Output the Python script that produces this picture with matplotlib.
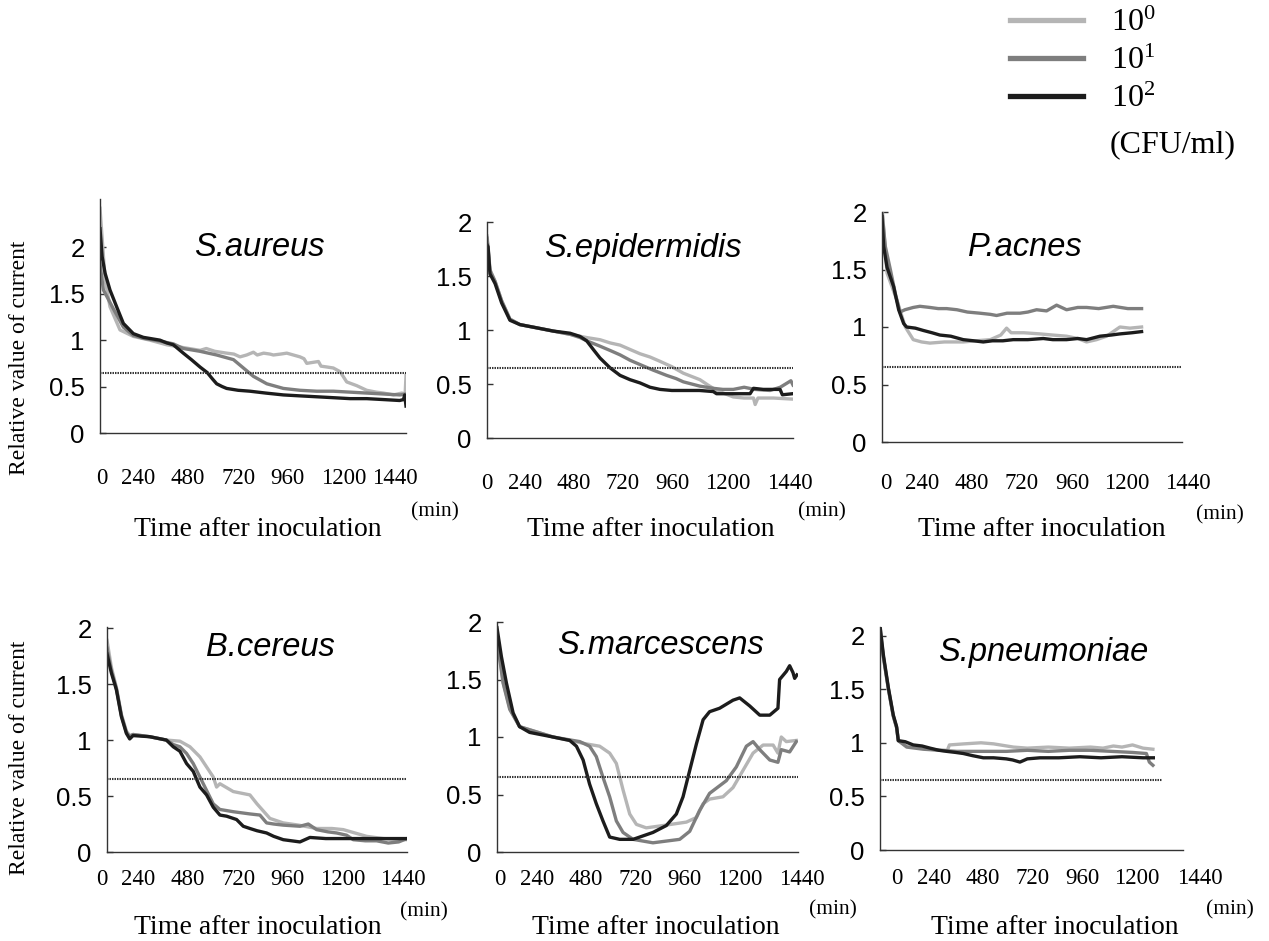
import matplotlib
matplotlib.use("Agg")
import matplotlib.pyplot as plt
from matplotlib.lines import Line2D
from matplotlib.transforms import ScaledTranslation

# relative value of current, three inoculum sizes (10^0, 10^1, 10^2 CFU/ml)
aureus_t0 = [0, 24, 47, 94, 157, 235, 314, 392, 471, 500, 540, 596, 630, 659, 690, 722, 740, 770, 800, 816, 850, 879, 910, 941, 960, 973, 1000, 1028, 1040, 1070, 1098, 1130, 1161, 1208, 1255, 1300, 1334, 1381, 1420, 1436, 1440]
aureus_v0 = [2.42, 1.65, 1.36, 1.11, 1.04, 1.0, 0.95, 0.92, 0.89, 0.91, 0.88, 0.86, 0.85, 0.82, 0.84, 0.87, 0.84, 0.86, 0.85, 0.84, 0.85, 0.86, 0.84, 0.82, 0.80, 0.75, 0.76, 0.77, 0.72, 0.71, 0.70, 0.66, 0.55, 0.51, 0.46, 0.44, 0.43, 0.41, 0.43, 0.42, 0.62]
aureus_t1 = [0, 16, 30, 60, 110, 157, 204, 282, 345, 392, 470, 549, 628, 675, 722, 785, 863, 941, 1020, 1098, 1177, 1255, 1334, 1412, 1440]
aureus_v1 = [1.82, 1.54, 1.48, 1.35, 1.14, 1.05, 1.02, 0.99, 0.96, 0.91, 0.88, 0.84, 0.79, 0.70, 0.61, 0.53, 0.48, 0.46, 0.45, 0.45, 0.44, 0.43, 0.42, 0.41, 0.42]
aureus_t2 = [0, 10, 24, 47, 80, 110, 157, 204, 282, 314, 345, 392, 430, 471, 505, 530, 549, 575, 596, 650, 706, 780, 863, 940, 1020, 1100, 1177, 1255, 1334, 1410, 1428, 1434, 1440]
aureus_v2 = [2.2, 1.9, 1.72, 1.54, 1.35, 1.18, 1.07, 1.03, 1.0, 0.97, 0.95, 0.86, 0.79, 0.71, 0.65, 0.58, 0.53, 0.50, 0.48, 0.46, 0.45, 0.43, 0.41, 0.40, 0.39, 0.38, 0.37, 0.37, 0.36, 0.35, 0.36, 0.41, 0.29]

epi_t0 = [0, 5, 14, 38, 69, 108, 155, 234, 312, 391, 469, 532, 580, 626, 673, 720, 767, 814, 870, 924, 1002, 1040, 1081, 1120, 1159, 1210, 1254, 1262, 1275, 1348, 1440]
epi_v0 = [1.87, 1.78, 1.56, 1.45, 1.27, 1.10, 1.05, 1.02, 0.99, 0.96, 0.93, 0.91, 0.88, 0.86, 0.82, 0.78, 0.75, 0.71, 0.66, 0.60, 0.54, 0.49, 0.44, 0.41, 0.38, 0.37, 0.37, 0.31, 0.37, 0.37, 0.36]
epi_t1 = [0, 5, 14, 38, 69, 108, 155, 234, 312, 391, 438, 469, 532, 580, 626, 673, 720, 780, 845, 890, 924, 1002, 1065, 1110, 1159, 1210, 1260, 1332, 1380, 1430, 1440]
epi_v1 = [1.85, 1.75, 1.55, 1.45, 1.27, 1.10, 1.05, 1.02, 0.99, 0.96, 0.93, 0.90, 0.85, 0.81, 0.77, 0.72, 0.68, 0.63, 0.58, 0.55, 0.52, 0.48, 0.46, 0.45, 0.45, 0.47, 0.45, 0.44, 0.47, 0.53, 0.49]
epi_t2 = [0, 5, 14, 38, 69, 108, 155, 234, 312, 391, 438, 469, 500, 532, 579, 626, 673, 720, 767, 814, 870, 924, 1000, 1065, 1080, 1160, 1238, 1254, 1300, 1379, 1390, 1438]
epi_v2 = [1.79, 1.77, 1.52, 1.43, 1.25, 1.09, 1.05, 1.02, 0.99, 0.97, 0.94, 0.90, 0.82, 0.74, 0.65, 0.58, 0.54, 0.51, 0.47, 0.45, 0.44, 0.44, 0.44, 0.43, 0.41, 0.41, 0.41, 0.46, 0.45, 0.45, 0.40, 0.41]

acnes_t0 = [0, 24, 72, 112, 150, 190, 230, 300, 390, 450, 520, 570, 598, 620, 680, 758, 820, 886, 940, 982, 1030, 1078, 1110, 1142, 1190, 1246]
acnes_v0 = [2.05, 1.47, 1.23, 1.00, 0.89, 0.87, 0.86, 0.87, 0.87, 0.88, 0.89, 0.93, 0.99, 0.95, 0.95, 0.94, 0.93, 0.92, 0.90, 0.87, 0.89, 0.92, 0.96, 1.00, 0.99, 1.00]
acnes_t1 = [0, 16, 40, 64, 86, 110, 150, 182, 230, 270, 310, 360, 410, 470, 520, 550, 600, 662, 700, 742, 790, 838, 886, 940, 982, 1040, 1110, 1180, 1246]
acnes_v1 = [2.0, 1.70, 1.50, 1.29, 1.13, 1.15, 1.17, 1.18, 1.17, 1.16, 1.16, 1.15, 1.13, 1.12, 1.11, 1.10, 1.12, 1.12, 1.13, 1.15, 1.14, 1.19, 1.15, 1.17, 1.17, 1.16, 1.18, 1.16, 1.16]
acnes_t2 = [0, 8, 24, 56, 80, 104, 118, 160, 198, 240, 278, 330, 390, 440, 486, 530, 580, 630, 700, 774, 820, 886, 940, 982, 1046, 1100, 1142, 1200, 1246]
acnes_v2 = [1.96, 1.70, 1.52, 1.35, 1.15, 1.03, 1.00, 0.99, 0.97, 0.95, 0.93, 0.92, 0.89, 0.88, 0.87, 0.88, 0.88, 0.89, 0.89, 0.90, 0.89, 0.89, 0.90, 0.89, 0.92, 0.93, 0.94, 0.95, 0.96]

cereus_t0 = [0, 21, 45, 69, 93, 109, 125, 205, 285, 350, 398, 446, 478, 510, 526, 542, 606, 686, 720, 782, 846, 920, 1006, 1080, 1134, 1190, 1246, 1326, 1440]
cereus_v0 = [1.89, 1.65, 1.47, 1.23, 1.08, 1.04, 1.05, 1.03, 1.00, 0.99, 0.94, 0.85, 0.76, 0.67, 0.58, 0.61, 0.54, 0.51, 0.43, 0.30, 0.26, 0.24, 0.21, 0.21, 0.20, 0.17, 0.14, 0.12, 0.11]
cereus_t1 = [0, 21, 45, 69, 93, 109, 125, 205, 285, 318, 350, 382, 414, 446, 478, 510, 542, 606, 686, 734, 766, 800, 846, 926, 966, 1006, 1060, 1102, 1150, 1182, 1240, 1294, 1350, 1400, 1440]
cereus_v1 = [1.82, 1.62, 1.46, 1.22, 1.07, 1.03, 1.05, 1.03, 1.00, 0.96, 0.94, 0.88, 0.79, 0.67, 0.55, 0.43, 0.38, 0.36, 0.34, 0.33, 0.26, 0.25, 0.24, 0.23, 0.25, 0.20, 0.18, 0.17, 0.15, 0.11, 0.10, 0.10, 0.08, 0.09, 0.12]
cereus_t2 = [0, 21, 45, 69, 93, 109, 125, 205, 285, 318, 350, 382, 414, 446, 478, 510, 542, 574, 622, 654, 686, 720, 766, 800, 846, 926, 974, 1050, 1166, 1300, 1438]
cereus_v2 = [1.77, 1.60, 1.45, 1.21, 1.06, 1.01, 1.04, 1.03, 1.00, 0.94, 0.90, 0.79, 0.72, 0.58, 0.51, 0.40, 0.33, 0.32, 0.29, 0.23, 0.21, 0.19, 0.17, 0.14, 0.11, 0.09, 0.13, 0.12, 0.12, 0.12, 0.12]

marc_t0 = [0, 29, 61, 108, 268, 427, 491, 539, 571, 603, 635, 667, 714, 794, 906, 954, 986, 1017, 1081, 1129, 1177, 1225, 1273, 1321, 1344, 1360, 1384, 1432]
marc_v0 = [1.90, 1.48, 1.25, 1.09, 1.00, 0.94, 0.92, 0.86, 0.77, 0.54, 0.33, 0.24, 0.21, 0.23, 0.26, 0.30, 0.42, 0.46, 0.48, 0.56, 0.71, 0.86, 0.93, 0.93, 0.86, 1.00, 0.96, 0.97]
marc_t1 = [0, 29, 61, 108, 268, 396, 443, 475, 507, 539, 571, 603, 651, 746, 874, 922, 969, 1017, 1097, 1145, 1193, 1225, 1257, 1305, 1344, 1360, 1400, 1432]
marc_v1 = [1.85, 1.47, 1.24, 1.09, 1.00, 0.96, 0.92, 0.83, 0.65, 0.48, 0.27, 0.17, 0.11, 0.08, 0.11, 0.18, 0.36, 0.51, 0.62, 0.74, 0.92, 0.96, 0.89, 0.80, 0.78, 0.89, 0.87, 0.96]
marc_t2 = [0, 21, 45, 77, 108, 156, 268, 348, 380, 412, 443, 475, 507, 539, 587, 651, 746, 810, 858, 890, 922, 954, 986, 1017, 1065, 1129, 1161, 1209, 1257, 1305, 1344, 1352, 1384, 1400, 1416, 1424, 1435]
marc_v2 = [1.95, 1.70, 1.47, 1.21, 1.09, 1.04, 1.00, 0.97, 0.92, 0.80, 0.59, 0.42, 0.27, 0.13, 0.11, 0.11, 0.17, 0.23, 0.33, 0.48, 0.71, 0.94, 1.15, 1.22, 1.25, 1.32, 1.34, 1.27, 1.19, 1.19, 1.25, 1.50, 1.57, 1.62, 1.56, 1.51, 1.54]

pneu_t0 = [0, 16, 40, 63, 79, 87, 127, 206, 285, 320, 330, 400, 480, 540, 634, 700, 800, 900, 1000, 1060, 1109, 1150, 1200, 1250, 1297]
pneu_v0 = [2.1, 1.80, 1.50, 1.25, 1.14, 1.02, 0.97, 0.95, 0.93, 0.93, 0.98, 0.99, 1.00, 0.99, 0.96, 0.95, 0.96, 0.95, 0.96, 0.95, 0.97, 0.96, 0.98, 0.95, 0.94]
pneu_t1 = [0, 16, 40, 63, 79, 87, 127, 206, 285, 364, 443, 522, 601, 700, 800, 900, 1000, 1100, 1200, 1266, 1280, 1297]
pneu_v1 = [2.05, 1.80, 1.50, 1.25, 1.14, 1.02, 0.96, 0.94, 0.93, 0.92, 0.92, 0.92, 0.92, 0.93, 0.92, 0.93, 0.93, 0.92, 0.91, 0.90, 0.82, 0.79]
pneu_t2 = [0, 16, 40, 63, 79, 87, 120, 158, 200, 238, 280, 317, 360, 396, 440, 491, 540, 600, 630, 665, 700, 760, 850, 950, 1050, 1150, 1250, 1299]
pneu_v2 = [2.09, 1.82, 1.51, 1.26, 1.15, 1.02, 1.01, 0.98, 0.97, 0.95, 0.93, 0.92, 0.91, 0.90, 0.88, 0.86, 0.86, 0.85, 0.84, 0.82, 0.85, 0.86, 0.86, 0.87, 0.86, 0.87, 0.86, 0.86]

species = ["S.aureus", "S.epidermidis", "P.acnes", "B.cereus", "S.marcescens", "S.pneumoniae"]
series = [
    [(aureus_t0, aureus_v0), (aureus_t1, aureus_v1), (aureus_t2, aureus_v2)],
    [(epi_t0, epi_v0), (epi_t1, epi_v1), (epi_t2, epi_v2)],
    [(acnes_t0, acnes_v0), (acnes_t1, acnes_v1), (acnes_t2, acnes_v2)],
    [(cereus_t0, cereus_v0), (cereus_t1, cereus_v1), (cereus_t2, cereus_v2)],
    [(marc_t0, marc_v0), (marc_t1, marc_v1), (marc_t2, marc_v2)],
    [(pneu_t0, pneu_v0), (pneu_t1, pneu_v1), (pneu_t2, pneu_v2)],
]
threshold = 0.65
threshold_end = [1440, 1440, 1440, 1440, 1440, 1340]
xticks = [0, 240, 480, 720, 960, 1200, 1440]
yticks = [0, 0.5, 1, 1.5, 2]
ytick_labels = ["0", "0.5", "1", "1.5", "2"]
legend_labels = [r"$\mathregular{10^0}$", r"$\mathregular{10^1}$", r"$\mathregular{10^2}$"]
unit_label = "(CFU/ml)"

colors = ["#b5b5b5", "#7e7e7e", "#1c1c1c"]
W, H = 1269, 941

def fx(x):
    return x / W

def fy(y):
    return 1 - y / H

# layout, in pixels
boxes = [(100, 199, 406, 433), (487, 222, 793, 438), (882, 212, 1182, 442),
         (107, 627, 407, 852), (497, 622, 798, 852), (880, 627, 1183, 850)]
ytop = [2.52, 2.0, 2.0, 2.01, 2.0, 2.08]
xpad = [25, 25, 22, 12, 12, 13]
# the printed tick labels sit a little off their ticks
label_shift = [[2, -13, -14, -14, -17, -11, -11],
               [0, -13, -15, -17, -19, -14, -3],
               [4, -10, -10, -10, -10, -5, 6],
               [-5, -19, -19, -18, -20, -14, -4],
               [3, -10, -12, -12, -13, -8, 4],
               [17, 4, 2, 1, 0, 4, 17]]
title_pos = [(259, 248), (643, 248), (1025, 248), (270, 648), (661, 645), (1043, 652)]
xlabel_pos = [(258, 529), (651, 529), (1042, 529), (258, 927), (656, 927), (1055, 927)]
min_pos = [(435, 512), (822, 512), (1220, 515), (424, 912), (833, 910), (1230, 910)]
ylabel_pos = [(20, 358), (20, 758)]

fig = plt.figure(figsize=(W / 100, H / 100), dpi=100)

for i in range(6):
    l, t, r, b = boxes[i]
    ax = fig.add_axes([fx(l), fy(b), (r - l) / W, (b - t) / H])
    for k in range(3):
        ax.plot(series[i][k][0], series[i][k][1], color=colors[k], lw=2.4, solid_joinstyle="round")
    ax.hlines(threshold, 0, threshold_end[i], colors="#333333", linestyles=(0, (0.7, 0.5)), lw=1.5)
    ax.set_xlim(0, 1440)
    ax.set_ylim(0, ytop[i])
    for s in ["top", "right"]:
        ax.spines[s].set_visible(False)
    for s in ["left", "bottom"]:
        ax.spines[s].set_color("#333333")
        ax.spines[s].set_linewidth(1.0)
    ax.set_yticks(yticks)
    ax.set_yticklabels(ytick_labels)
    ax.set_xticks(xticks)
    ax.set_xticklabels([str(x) for x in xticks])
    ax.tick_params(axis="x", length=0, pad=xpad[i], labelsize=16.5, labelfontfamily="Liberation Serif")
    ax.tick_params(axis="y", direction="in", length=4, width=1, color="#333333", pad=11, labelsize=18.5, labelfontfamily="Liberation Sans")
    for lab, dx in zip(ax.get_xticklabels(), label_shift[i]):
        lab.set_transform(lab.get_transform() + ScaledTranslation(dx / 100, 0, fig.dpi_scale_trans))
    ax.patch.set_visible(False)

    fig.text(fx(title_pos[i][0]), fy(title_pos[i][1]), species[i], family="Liberation Sans",
             style="italic", size=23.5, ha="center", va="center")
    fig.text(fx(xlabel_pos[i][0]), fy(xlabel_pos[i][1]), "Time after inoculation",
             family="Liberation Serif", size=20, ha="center", va="center")
    fig.text(fx(min_pos[i][0]), fy(min_pos[i][1]), "(min)", family="Liberation Serif",
             size=15.5, ha="center", va="center")

for x, y in ylabel_pos:
    fig.text(fx(x), fy(y), "Relative value of current", family="Liberation Serif",
             size=17, rotation=90, ha="center", va="center")

handles = [Line2D([], [], color=c, lw=3.8) for c in colors]
fig.legend(handles, legend_labels, loc="upper left", bbox_to_anchor=(fx(1010), fy(9)),
           frameon=False, prop={"family": "Liberation Serif", "size": 23},
           handlelength=2.3, handletextpad=0.85, labelspacing=0.27, borderpad=0, borderaxespad=0)
fig.text(fx(1110), fy(145), unit_label, family="Liberation Serif", size=23, ha="left", va="center")

fig.savefig("out.png", dpi=100, facecolor="white")
